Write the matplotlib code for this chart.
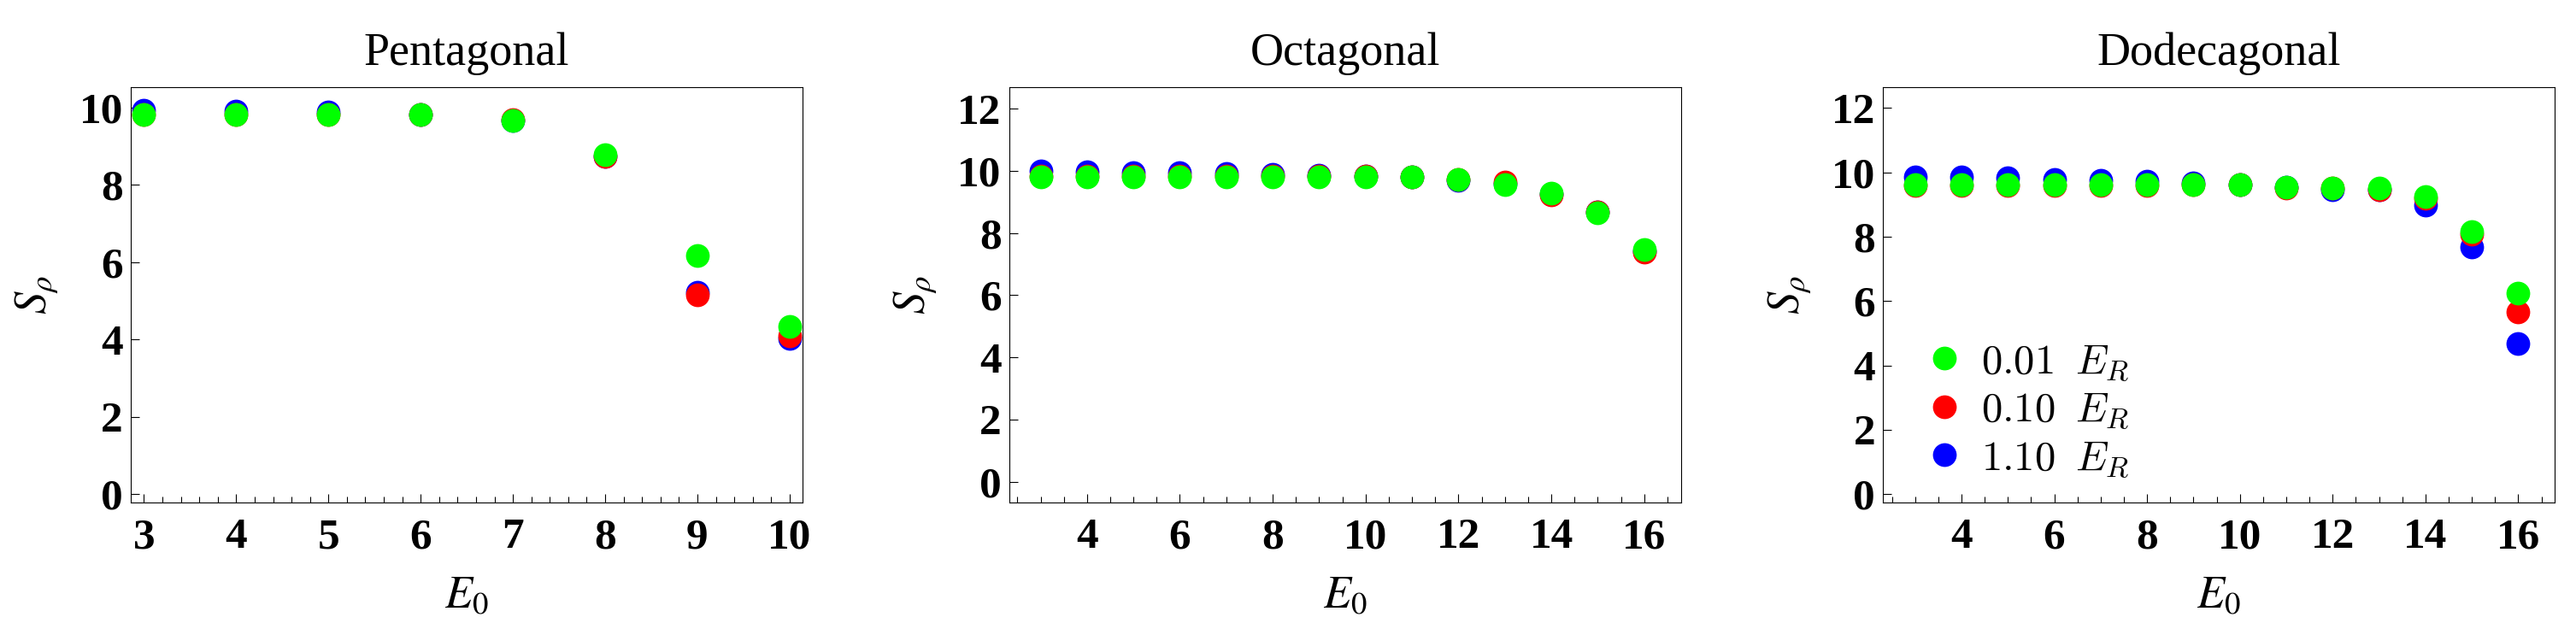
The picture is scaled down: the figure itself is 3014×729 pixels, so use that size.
import matplotlib
matplotlib.use('Agg')
import matplotlib.pyplot as plt
from matplotlib.ticker import MultipleLocator

plt.rcParams['font.family'] = 'Liberation Serif'
plt.rcParams['mathtext.fontset'] = 'stix'

#==============================
# Data
#==============================
x_pent = [3, 4, 5, 6, 7, 8, 9, 10]
pent_001 = [9.83, 9.83, 9.83, 9.83, 9.67, 8.79, 6.17, 4.35]
pent_010 = [9.83, 9.82, 9.83, 9.82, 9.68, 8.75, 5.16, 4.10]
pent_110 = [9.94, 9.92, 9.89, 9.83, 9.67, 8.75, 5.23, 4.04]

x_oct = [3, 4, 5, 6, 7, 8, 9, 10, 11, 12, 13, 14, 15, 16]
oct_001 = [9.82, 9.82, 9.82, 9.82, 9.82, 9.82, 9.82, 9.81, 9.80, 9.73, 9.57, 9.29, 8.65, 7.47]
oct_010 = [9.83, 9.83, 9.83, 9.83, 9.83, 9.83, 9.83, 9.83, 9.80, 9.73, 9.64, 9.23, 8.69, 7.39]
oct_110 = [10.01, 9.97, 9.95, 9.95, 9.92, 9.89, 9.86, 9.83, 9.80, 9.71, 9.60, 9.25, 8.68, 7.42]

x_dodec = [3, 4, 5, 6, 7, 8, 9, 10, 11, 12, 13, 14, 15, 16]
dodec_001 = [9.61, 9.61, 9.61, 9.61, 9.61, 9.61, 9.61, 9.61, 9.53, 9.50, 9.50, 9.26, 8.15, 6.24]
dodec_010 = [9.60, 9.60, 9.60, 9.60, 9.60, 9.60, 9.61, 9.61, 9.52, 9.51, 9.45, 9.20, 8.07, 5.67]
dodec_110 = [9.87, 9.85, 9.82, 9.79, 9.75, 9.72, 9.66, 9.62, 9.53, 9.47, 9.47, 8.97, 7.67, 4.67]

titles = ['Pentagonal', 'Octagonal', 'Dodecagonal']
labels = [r'$0.01\;\;E_R$', r'$0.10\;\;E_R$', r'$1.10\;\;E_R$']
colors = ['#00ff00', '#ff0000', '#0000ff']

panels = [
    (x_pent, pent_001, pent_010, pent_110),
    (x_oct, oct_001, oct_010, oct_110),
    (x_dodec, dodec_001, dodec_010, dodec_110),
]

#==============================
# Layout
#==============================
fig = plt.figure(figsize=(30.14, 7.29), dpi=100)
lefts = [0.0508, 0.3917, 0.7310]
axes = [fig.add_axes([l, 0.193, 0.2608, 0.6667]) for l in lefts]

xlims = [(2.858, 10.142), (2.32, 16.79), (2.31, 16.79)]
ylims = [(-0.221, 10.524), (-0.68, 12.69), (-0.27, 12.64)]
yticks = [[0, 2, 4, 6, 8, 10], [0, 2, 4, 6, 8, 10, 12], [0, 2, 4, 6, 8, 10, 12]]

for i, ax in enumerate(axes):
    x, s001, s010, s110 = panels[i]
    # blue under red under green, like the original
    h110, = ax.plot(x, s110, 'o', color=colors[2], ms=20, mew=0, label=labels[2])
    h010, = ax.plot(x, s010, 'o', color=colors[1], ms=20, mew=0, label=labels[1])
    h001, = ax.plot(x, s001, 'o', color=colors[0], ms=20, mew=0, label=labels[0])

    ax.set_xlim(*xlims[i])
    ax.set_ylim(*ylims[i])
    ax.set_yticks(yticks[i])
    if i == 0:
        ax.xaxis.set_major_locator(MultipleLocator(1))
        ax.xaxis.set_minor_locator(MultipleLocator(0.2))
    else:
        ax.set_xticks([4, 6, 8, 10, 12, 14, 16])
        ax.xaxis.set_minor_locator(MultipleLocator(0.5))

    ax.tick_params(which='both', direction='in', top=False, right=False, width=0.8)
    ax.tick_params(which='major', length=7.2)
    ax.tick_params(which='minor', length=4.8)
    ax.tick_params(axis='x', which='major', pad=13, labelsize=37)
    ax.tick_params(axis='y', which='major', pad=6.5, labelsize=37)
    for lab in ax.get_xticklabels() + ax.get_yticklabels():
        lab.set_fontweight('bold')
    for sp in ax.spines.values():
        sp.set_linewidth(0.8)

    ax.set_title(titles[i], fontsize=39, pad=19)
    ax.set_xlabel(r'$E_0$', fontsize=38, labelpad=16)
    ax.set_ylabel(r'$S_\rho$', fontsize=38, labelpad=16)

    if i == 2:
        leg = ax.legend(handles=[h001, h010, h110], loc='upper left',
                        bbox_to_anchor=(0.06, 0.386), frameon=False,
                        fontsize=35, handlelength=1.0, handletextpad=0.4,
                        labelspacing=0.2, borderpad=0, borderaxespad=0)
        for t in leg.get_texts():
            t.set_math_fontfamily('cm')

plt.savefig('out.png', dpi=100)
